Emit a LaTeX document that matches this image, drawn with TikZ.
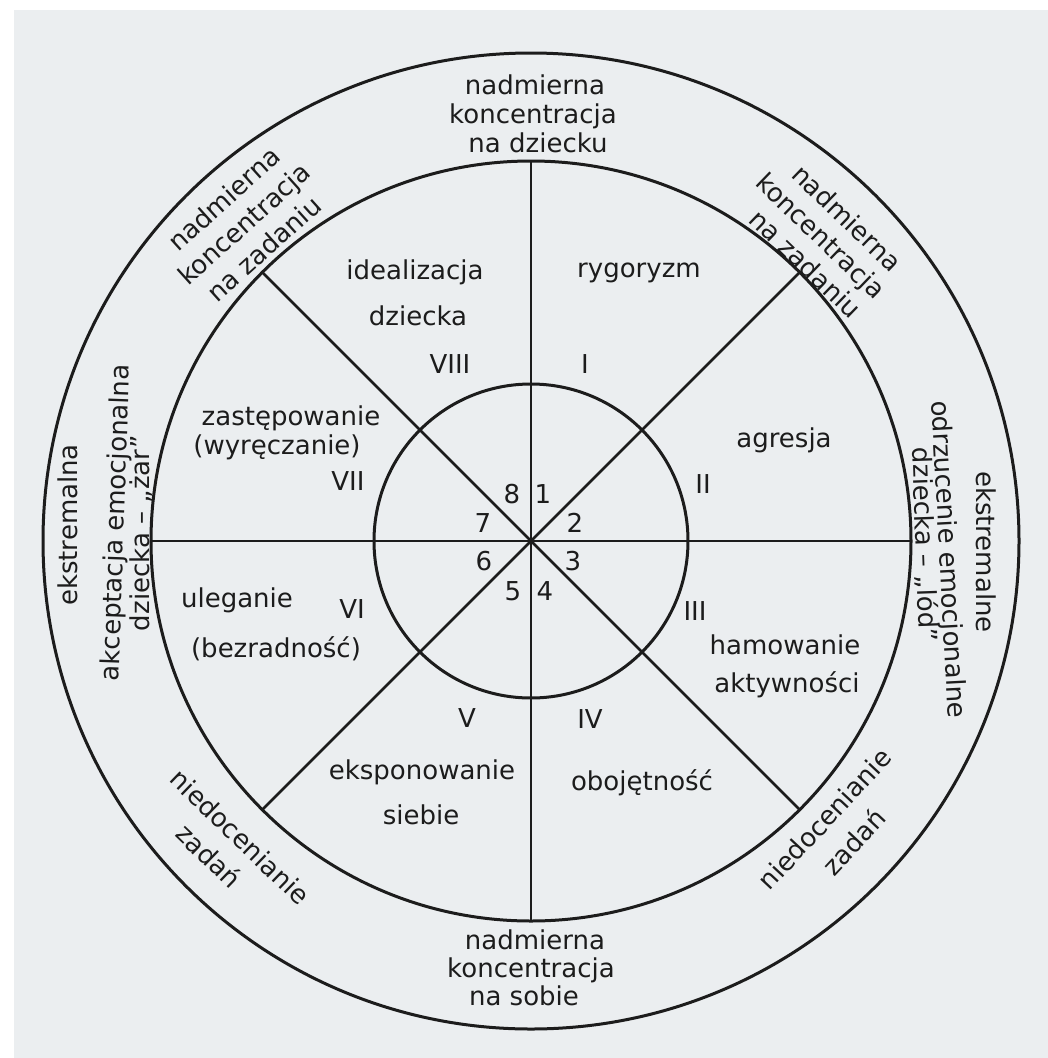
\documentclass[tikz,border=0pt]{standalone}
\usepackage{fontspec}
\setmainfont{DejaVu Sans}
\definecolor{paper}{RGB}{235,238,240}
\definecolor{ink}{RGB}{28,28,28}
\begin{document}
\begin{tikzpicture}[x=1pt,y=-1pt,
  lab/.style={font=\fontsize{26}{28}\selectfont, text=ink, inner sep=0pt, anchor=base},
  ring/.style={draw=ink, line width=3pt},
  spoke/.style={draw=ink, line width=2.6pt}]
\useasboundingbox (0,0) rectangle (1048,1058);
\fill[white] (0,0) rectangle (1048,1058);
\fill[paper] (14,10) rectangle (1048,1058);
% circles
\coordinate (c) at (531,541);
\draw[ring] (c) circle[radius=488pt];
\draw[ring] (c) circle[radius=380pt];
\draw[ring] (c) circle[radius=157pt];
% spoke ends on the middle circle
\coordinate (n) at (531,161);
\coordinate (s) at (531,921);
\coordinate (w) at (151,541);
\coordinate (e) at (911,541);
\coordinate (nw) at (262.3,272.3);
\coordinate (se) at (799.7,809.7);
\coordinate (ne) at (799.7,272.3);
\coordinate (sw) at (262.3,809.7);
\draw[spoke] (n) -- (s);
\draw[spoke] (w) -- (e);
\draw[spoke] (nw) -- (se);
\draw[spoke] (ne) -- (sw);
% outer ring labels
\node[lab] (top1) at (535,94) {nadmierna};
\node[lab] (top2) at (533,123) {koncentracja};
\node[lab] (top3) at (538,152) {na dziecku};
\node[lab] (bot1) at (535,949) {nadmierna};
\node[lab] (bot2) at (531,977) {koncentracja};
\node[lab] (bot3) at (524,1005) {na sobie};
\node[lab,rotate=42] (ul1) at (230.2,206.0) {nadmierna};
\node[lab,rotate=42] (ul2) at (250.4,230.9) {koncentracja};
\node[lab,rotate=42] (ul3) at (270.2,256.1) {na zadaniu};
\node[lab,rotate=-44] (ur1) at (840.4,224.9) {nadmierna};
\node[lab,rotate=-44] (ur2) at (814.4,242.8) {koncentracja};
\node[lab,rotate=-44] (ur3) at (798.7,270.7) {na zadaniu};
\node[lab,rotate=90] (l1) at (77,525) {ekstremalna};
\node[lab,rotate=88] (l2) at (124,523) {akceptacja emocjonalna};
\node[lab,rotate=90] (l3) at (149,533) {dziecka – „żar”};
\node[lab,rotate=-90] (r1) at (976,552) {ekstremalne};
\node[lab,rotate=-87] (r2) at (940,560) {odrzucenie emocjonalne};
\node[lab,rotate=-88] (r3) at (916,545) {dziecka – „lód”};
\node[lab,rotate=-44] (bl1) at (233.4,843.8) {niedocenianie};
\node[lab,rotate=-44] (bl2) at (202.4,862.8) {zadań};
\node[lab,rotate=47] (br1) at (831.8,825.5) {niedocenianie};
\node[lab,rotate=47] (br2) at (860.8,848.5) {zadań};
% sector labels
\node[lab] (s8a) at (415,279) {idealizacja};
\node[lab] (s8b) at (418,325) {dziecka};
\node[lab] (s8n) at (450,373) {VIII};
\node[lab] (s1a) at (639,277) {rygoryzm};
\node[lab] (s1n) at (585,373) {I};
\node[lab] (s7a) at (291,425) {zastępowanie};
\node[lab] (s7b) at (277,454) {(wyręczanie)};
\node[lab] (s7n) at (348,490) {VII};
\node[lab] (s2a) at (784,447) {agresja};
\node[lab] (s2n) at (703,493) {II};
\node[lab] (s6a) at (237,607) {uleganie};
\node[lab] (s6b) at (276,657) {(bezradność)};
\node[lab] (s6n) at (352,618) {VI};
\node[lab] (s3n) at (695,620) {III};
\node[lab] (s3a) at (785,654) {hamowanie};
\node[lab] (s3b) at (787,692) {aktywności};
\node[lab] (s5n) at (467,727) {V};
\node[lab] (s5a) at (422,779) {eksponowanie};
\node[lab] (s5b) at (421,824) {siebie};
\node[lab] (s4n) at (590,728) {IV};
\node[lab] (s4a) at (642,790) {obojętność};
% numbers in the inner circle
\node[lab] (d8) at (512,503) {8};
\node[lab] (d1) at (543,503) {1};
\node[lab] (d7) at (483,532) {7};
\node[lab] (d2) at (575,532) {2};
\node[lab] (d6) at (484,570) {6};
\node[lab] (d3) at (573,570) {3};
\node[lab] (d5) at (513,600) {5};
\node[lab] (d4) at (545,600) {4};
\end{tikzpicture}
\end{document}
